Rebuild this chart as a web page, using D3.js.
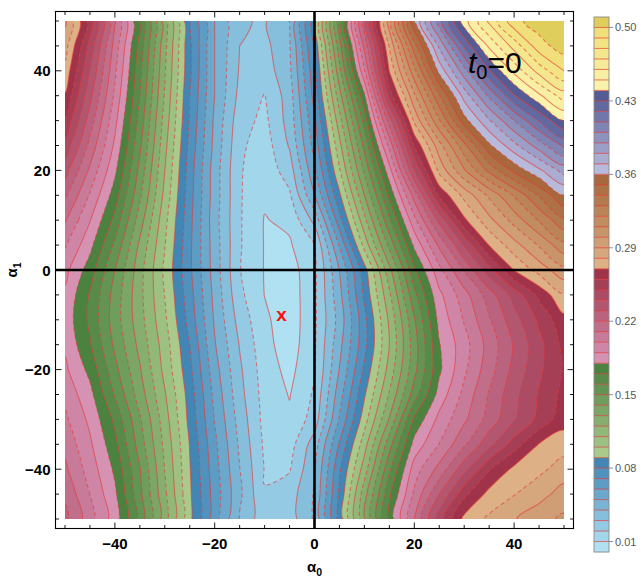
<!DOCTYPE html>
<html><head><meta charset="utf-8">
<script src="https://cdn.jsdelivr.net/npm/d3@7"></script>
<style>body{margin:0;background:#fff}svg{display:block}text{font-family:"Liberation Sans",Arial,sans-serif}</style>
</head><body>
<script>
// ---- data ----
const alpha0 = [-50,-45,-40,-35,-30,-25,-20,-15,-10,-5,0,5,10,15,20,25,30,35,40,45,50];
const alpha1 = [50,45,40,35,30,25,20,15,10,5,0,-5,-10,-15,-20,-25,-30,-35,-40,-45,-50];
const row50  = [0.292,0.256,0.211,0.169,0.125,0.080,0.050,0.031,0.029,0.040,0.087,0.156,0.227,0.296,0.360,0.406,0.446,0.472,0.497,0.505,0.510];
const row45  = [0.284,0.247,0.206,0.166,0.123,0.082,0.050,0.030,0.027,0.039,0.082,0.146,0.213,0.281,0.336,0.382,0.422,0.452,0.474,0.496,0.505];
const row40  = [0.277,0.240,0.202,0.163,0.121,0.082,0.050,0.029,0.0245,0.038,0.077,0.137,0.199,0.2705,0.317,0.363,0.396,0.429,0.453,0.474,0.490];
const row35  = [0.269,0.233,0.198,0.160,0.119,0.080,0.050,0.027,0.0196,0.035,0.074,0.126,0.178,0.254,0.298,0.339,0.374,0.402,0.429,0.448,0.465];
const row30  = [0.259,0.225,0.193,0.156,0.116,0.079,0.048,0.024,0.0175,0.034,0.068,0.116,0.164,0.225,0.282,0.319,0.356,0.379,0.400,0.421,0.4395];
const row25  = [0.247,0.217,0.188,0.152,0.113,0.077,0.047,0.022,0.015,0.031,0.064,0.107,0.153,0.203,0.261,0.296,0.327,0.358,0.377,0.395,0.412];
const row20  = [0.234,0.208,0.182,0.147,0.110,0.075,0.045,0.021,0.0135,0.025,0.058,0.099,0.142,0.186,0.240,0.283,0.309,0.333,0.353,0.368,0.384];
const row15  = [0.222,0.199,0.175,0.142,0.107,0.074,0.045,0.021,0.0115,0.0185,0.050,0.088,0.130,0.172,0.214,0.262,0.283,0.302,0.321,0.341,0.3595];
const row10  = [0.211,0.1905,0.167,0.135,0.103,0.073,0.044,0.021,0.0095,0.012,0.033,0.076,0.117,0.158,0.197,0.233,0.268,0.287,0.304,0.321,0.338];
const row5   = [0.201,0.183,0.158,0.128,0.1005,0.072,0.045,0.021,0.0095,0.0089,0.0195,0.061,0.1035,0.143,0.182,0.212,0.241,0.2705,0.286,0.301,0.317];
const row0   = [0.193,0.175,0.150,0.124,0.098,0.072,0.0455,0.0205,0.0095,0.0055,0.0175,0.0500,0.086,0.127,0.168,0.197,0.221,0.246,0.2705,0.284,0.297];
const rowm5  = [0.188,0.169,0.146,0.123,0.0997,0.074,0.047,0.0225,0.0098,0.0043,0.018,0.047,0.082,0.118,0.1575,0.1875,0.206,0.225,0.244,0.2625,0.279];
const rowm10 = [0.186,0.168,0.145,0.124,0.102,0.076,0.0487,0.026,0.012,0.004,0.018,0.044,0.077,0.112,0.149,0.183,0.201,0.219,0.236,0.252,0.267];
const rowm15 = [0.188,0.171,0.148,0.127,0.105,0.080,0.0509,0.0294,0.0134,0.0046,0.0187,0.047,0.077,0.110,0.1454,0.1793,0.196,0.214,0.231,0.247,0.263];
const rowm20 = [0.192,0.177,0.153,0.131,0.107,0.0826,0.054,0.0317,0.0149,0.0071,0.019,0.0505,0.082,0.114,0.147,0.178,0.198,0.216,0.233,0.248,0.261];
const rowm25 = [0.197,0.183,0.159,0.135,0.111,0.0855,0.057,0.0334,0.016,0.0095,0.0215,0.0557,0.0886,0.121,0.155,0.184,0.203,0.221,0.237,0.251,0.263];
const rowm30 = [0.202,0.1877,0.1678,0.1412,0.1145,0.0869,0.0595,0.036,0.0168,0.0116,0.0246,0.061,0.0955,0.131,0.172,0.193,0.208,0.224,0.239,0.253,0.266];
const rowm35 = [0.207,0.1917,0.173,0.1453,0.1174,0.0895,0.0624,0.0383,0.0181,0.0157,0.035,0.071,0.1057,0.146,0.1836,0.2003,0.2185,0.2366,0.2548,0.2705,0.2753];
const rowm40 = [0.212,0.1955,0.178,0.1506,0.1198,0.0906,0.0642,0.0403,0.0195,0.0192,0.039,0.0785,0.115,0.158,0.195,0.2134,0.2362,0.259,0.2725,0.2775,0.2847];
const rowm45 = [0.218,0.1999,0.1818,0.1526,0.1222,0.0916,0.0656,0.0422,0.0203,0.025,0.041,0.082,0.126,0.168,0.202,0.2297,0.2573,0.2733,0.2795,0.2864,0.294];
const rowm50 = [0.223,0.204,0.185,0.1564,0.1245,0.0925,0.064,0.039,0.0235,0.025,0.0415,0.084,0.1287,0.1737,0.2102,0.2454,0.2728,0.2818,0.2893,0.296,0.302];
const fieldRows = [row50,row45,row40,row35,row30,row25,row20,row15,row10,row5,row0,rowm5,rowm10,rowm15,rowm20,rowm25,rowm30,rowm35,rowm40,rowm45,rowm50];
const contourStep = 0.01;
const fieldRange = [0, 0.51];
const legendTicks = [0.01,0.08,0.15,0.22,0.29,0.36,0.43,0.50];
const axisTicks = [-40,-20,0,20,40];
const minorTicks = [-50,-45,-40,-35,-30,-25,-20,-15,-10,-5,0,5,10,15,20,25,30,35,40,45,50];
const minimumPoint = [-6.6, -9.2];
const panelLabel = "0";

// ---- styles ----
const groupColors = [
  ["#afe1f3","#4286b5",9],   // 0.00-0.09
  ["#a9ca8b","#4c8240",9],   // 0.09-0.18
  ["#d692b3","#9e3349",9],   // 0.18-0.27
  ["#ddb086","#a6683c",9],   // 0.27-0.36
  ["#b8badb","#545c96",8]    // 0.36-0.44
];
const yellowBands = ["#faf3ab","#f8efa2","#f6eb98","#f4e78e","#f2e384","#f0df7a","#dfcd5c"];
const bandColors = [];
groupColors.forEach(([a,b,n])=>{ const ip=d3.interpolateRgb(a,b); for(let i=0;i<n;i++) bandColors.push(ip(i/(n-1))); });
yellowBands.forEach(c=>bandColors.push(c));
const lineColor = "rgba(232,58,58,0.62)";

const W=641,H=587;
const svg = d3.select("body").append("svg").attr("width",W).attr("height",H);
const x = d3.scaleLinear().domain([-50,50]).range([65,564]);
const y = d3.scaleLinear().domain([-50,50]).range([519,21]);
const pad = 9.5;
const F = {l:x(-50)-pad, r:x(50)+pad, t:y(50)-pad, b:y(-50)+pad};

svg.append("clipPath").attr("id","clip").append("rect")
  .attr("x",x(-50)).attr("y",y(50)).attr("width",x(50)-x(-50)).attr("height",y(-50)-y(50));
const plot = svg.append("g").attr("clip-path","url(#clip)");

const nx = alpha0.length, ny = alpha1.length;
const dA0 = alpha0[1]-alpha0[0], dA1 = alpha1[1]-alpha1[0];
const values = fieldRows.flat();
const thresholds = d3.range(1, 51).map(k=>+(k*contourStep).toFixed(2));
const contours = d3.contours().size([nx,ny]).smooth(true).thresholds(thresholds)(values);

// contour rings drawn through d3 scales with a smooth closed curve
const ringLine = d3.line().curve(d3.curveCatmullRomClosed.alpha(0.5));
function contourPath(mp){
  return mp.coordinates.map(poly => poly.map(ring => {
    const pts = ring.slice(0,-1).map(([cx,cy]) => [x(alpha0[0]+(cx-0.5)*dA0), y(alpha1[0]+(cy-0.5)*dA1)]);
    return pts.length>2 ? ringLine(pts) : "";
  }).join("")).join("");
}

plot.append("rect").attr("x",x(-50)).attr("y",y(50)).attr("width",x(50)-x(-50)).attr("height",y(-50)-y(50))
  .attr("fill",bandColors[0]);
plot.selectAll("path.band").data(contours).join("path").attr("class","band")
  .attr("d",contourPath).attr("fill-rule","evenodd")
  .attr("fill",d=>bandColors[Math.round(d.value/contourStep)]).attr("stroke","none");
plot.selectAll("path.line").data(contours).join("path").attr("class","line")
  .attr("d",contourPath).attr("fill","none").attr("stroke",lineColor).attr("stroke-width",1.1)
  .attr("stroke-dasharray",d=>Math.round(d.value/contourStep)%2===0?"4,3":null);

// zero axes
svg.append("line").attr("x1",x(0)).attr("x2",x(0)).attr("y1",F.t).attr("y2",F.b).attr("stroke","#000").attr("stroke-width",2.6);
svg.append("line").attr("x1",F.l).attr("x2",F.r).attr("y1",y(0)).attr("y2",y(0)).attr("stroke","#000").attr("stroke-width",2.6);

// frame
svg.append("rect").attr("x",F.l).attr("y",F.t).attr("width",F.r-F.l).attr("height",F.b-F.t)
  .attr("fill","none").attr("stroke","#000").attr("stroke-width",1.1);
const tg = svg.append("g").attr("stroke","#000").attr("stroke-width",0.9);
minorTicks.forEach(v=>{
  const L = (v%20===0)?6:3.5;
  tg.append("line").attr("x1",x(v)).attr("x2",x(v)).attr("y1",F.b).attr("y2",F.b-L);
  tg.append("line").attr("x1",x(v)).attr("x2",x(v)).attr("y1",F.t).attr("y2",F.t+L);
  tg.append("line").attr("y1",y(v)).attr("y2",y(v)).attr("x1",F.l).attr("x2",F.l+L);
  tg.append("line").attr("y1",y(v)).attr("y2",y(v)).attr("x1",F.r).attr("x2",F.r-L);
});
const fmt = v => v<0 ? "\u2212"+(-v) : String(v);
axisTicks.forEach(v=>{
  svg.append("text").attr("x",x(v)).attr("y",F.b+20).attr("text-anchor","middle")
    .attr("font-size",15).attr("font-weight","bold").text(fmt(v));
  svg.append("text").attr("x",F.l-5).attr("y",y(v)+5.5).attr("text-anchor","end")
    .attr("font-size",15).attr("font-weight","bold").text(fmt(v));
});
// axis labels
const xl = svg.append("text").attr("x",x(0)).attr("y",572).attr("text-anchor","middle").attr("font-size",15).attr("font-weight","bold");
xl.append("tspan").text("\u03b1");
xl.append("tspan").attr("font-size",10.5).attr("dy",4).text("0");
const yl = svg.append("text").attr("transform",`translate(17,${y(0)}) rotate(-90)`).attr("text-anchor","middle").attr("font-size",15).attr("font-weight","bold");
yl.append("tspan").text("\u03b1");
yl.append("tspan").attr("font-size",10.5).attr("dy",4).text("1");

// panel label
const pl = svg.append("text").attr("x",468).attr("y",73).attr("font-size",30);
pl.append("tspan").attr("font-style","italic").text("t");
pl.append("tspan").attr("font-size",20).attr("dy",6).text("0");
pl.append("tspan").attr("dy",-6).text("="+panelLabel);

// minimum marker
svg.append("text").attr("x",x(minimumPoint[0])).attr("y",y(minimumPoint[1])+5.5).attr("text-anchor","middle")
  .attr("font-size",19).attr("font-weight","bold").attr("fill","#ff1010").text("x");

// colour bar
const cb = {x:594, w:15};
const cy = d3.scaleLinear().domain(fieldRange).range([552,17]);
const cg = svg.append("g");
bandColors.forEach((c,k)=>{
  cg.append("rect").attr("x",cb.x).attr("width",cb.w)
    .attr("y",cy((k+1)*contourStep)).attr("height",cy(k*contourStep)-cy((k+1)*contourStep)+0.3).attr("fill",c);
});
thresholds.forEach(t=>{
  cg.append("line").attr("x1",cb.x).attr("x2",cb.x+cb.w).attr("y1",cy(t)).attr("y2",cy(t))
    .attr("stroke",lineColor).attr("stroke-width",1.1);
});
cg.append("rect").attr("x",cb.x).attr("y",cy(fieldRange[1])).attr("width",cb.w).attr("height",cy(fieldRange[0])-cy(fieldRange[1]))
  .attr("fill","none").attr("stroke","#8a8a8a").attr("stroke-width",0.9);
legendTicks.forEach(t=>{
  cg.append("line").attr("x1",cb.x+cb.w).attr("x2",cb.x+cb.w+4).attr("y1",cy(t)).attr("y2",cy(t)).attr("stroke","#777").attr("stroke-width",0.8);
  cg.append("text").attr("x",cb.x+cb.w+6).attr("y",cy(t)+4).attr("font-size",11).attr("fill","#555").text(d3.format(".2f")(t));
});
</script>
</body></html>
